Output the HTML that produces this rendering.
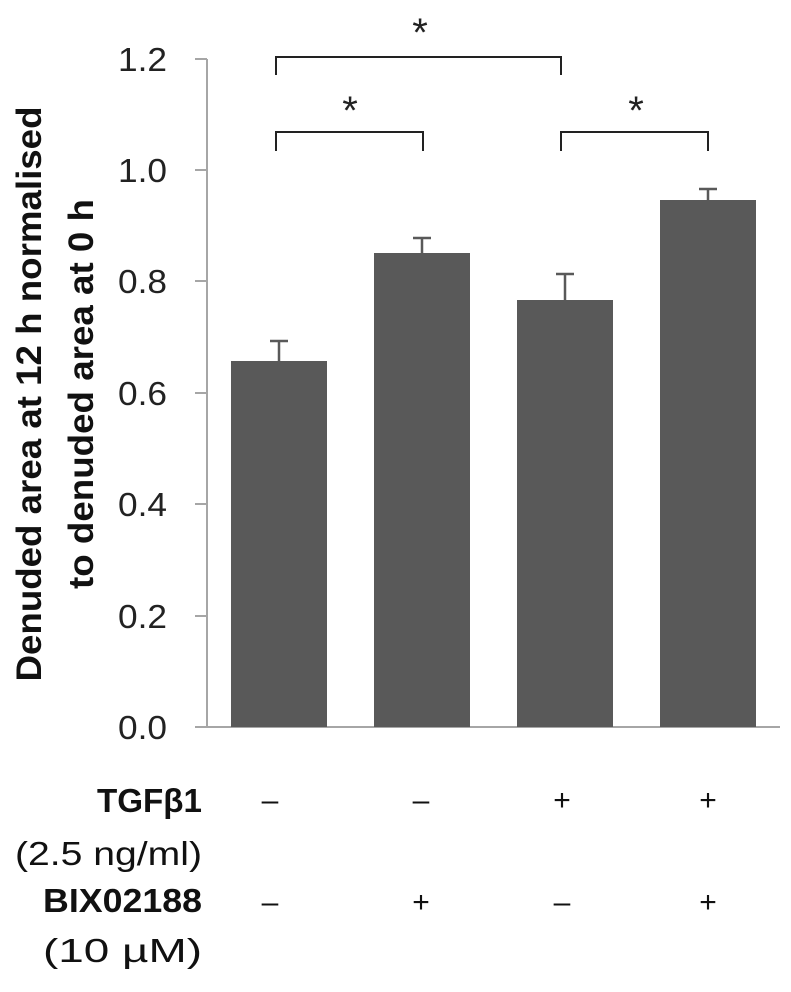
<!DOCTYPE html><html><head><style>body{margin:0;background:#fff}</style></head><body>
<svg width="791" height="987" xmlns="http://www.w3.org/2000/svg" font-family="Liberation Sans, sans-serif">
<rect width="791" height="987" fill="#fff"/>
<g stroke="#a6a6a6" stroke-width="2">
<line x1="207" y1="59" x2="207" y2="727"/>
<line x1="195" y1="59" x2="207" y2="59"/><line x1="195" y1="170" x2="207" y2="170"/><line x1="195" y1="281" x2="207" y2="281"/><line x1="195" y1="393" x2="207" y2="393"/><line x1="195" y1="504" x2="207" y2="504"/><line x1="195" y1="616" x2="207" y2="616"/><line x1="195" y1="727" x2="207" y2="727"/>
<line x1="207" y1="727" x2="780" y2="727"/>
</g>
<g font-size="33" fill="#222" text-anchor="end">
<text x="167" y="71" textLength="49" lengthAdjust="spacingAndGlyphs">1.2</text>
<text x="167" y="182" textLength="49" lengthAdjust="spacingAndGlyphs">1.0</text>
<text x="167" y="293" textLength="49" lengthAdjust="spacingAndGlyphs">0.8</text>
<text x="167" y="405" textLength="49" lengthAdjust="spacingAndGlyphs">0.6</text>
<text x="167" y="516" textLength="49" lengthAdjust="spacingAndGlyphs">0.4</text>
<text x="167" y="628" textLength="49" lengthAdjust="spacingAndGlyphs">0.2</text>
<text x="167" y="739" textLength="49" lengthAdjust="spacingAndGlyphs">0.0</text>
</g>
<g fill="#595959">
<rect x="231" y="361" width="96" height="366"/>
<rect x="374" y="253" width="96" height="474"/>
<rect x="517" y="300" width="96" height="427"/>
<rect x="660" y="200" width="96" height="527"/>
</g>
<g stroke="#595959" stroke-width="2.5" fill="none">
<path d="M279 361V341M270 341H288"/>
<path d="M422 253V238M413 238H431"/>
<path d="M565 300V274M556 274H574"/>
<path d="M708 200V189M699 189H717"/>
</g>
<g stroke="#222" stroke-width="2" fill="none">
<path d="M276 75V57H561V75"/>
<path d="M276 151V132H423V151"/>
<path d="M561 151V132H708V151"/>
</g>
<g font-size="40" text-anchor="middle" fill="#222">
<text x="420" y="46">*</text><text x="350" y="124">*</text><text x="636" y="124">*</text>
</g>
<g font-size="35" font-weight="bold" text-anchor="middle" fill="#111" transform="translate(0,394) rotate(-90)">
<text x="0" y="41" textLength="575" lengthAdjust="spacingAndGlyphs">Denuded area at 12 h normalised</text>
<text x="0" y="93" textLength="390" lengthAdjust="spacingAndGlyphs">to denuded area at 0 h</text>
</g>
<g font-size="33" fill="#111">
<text x="202" y="812" font-weight="bold" text-anchor="end" textLength="105" lengthAdjust="spacingAndGlyphs">TGFβ1</text>
<text x="202" y="865" text-anchor="end" textLength="187" lengthAdjust="spacingAndGlyphs">(2.5 ng/ml)</text>
<text x="202" y="912" font-weight="bold" text-anchor="end" textLength="159" lengthAdjust="spacingAndGlyphs">BIX02188</text>
<text x="202" y="962" text-anchor="end" textLength="159" lengthAdjust="spacingAndGlyphs">(10 µM)</text>
<g text-anchor="middle" font-size="30">
<text x="270" y="810">–</text><text x="421" y="810">–</text><text x="562" y="810">+</text><text x="708" y="810">+</text>
<text x="270" y="912">–</text><text x="421" y="912">+</text><text x="562" y="912">–</text><text x="708" y="912">+</text>
</g></g>
</svg></body></html>
